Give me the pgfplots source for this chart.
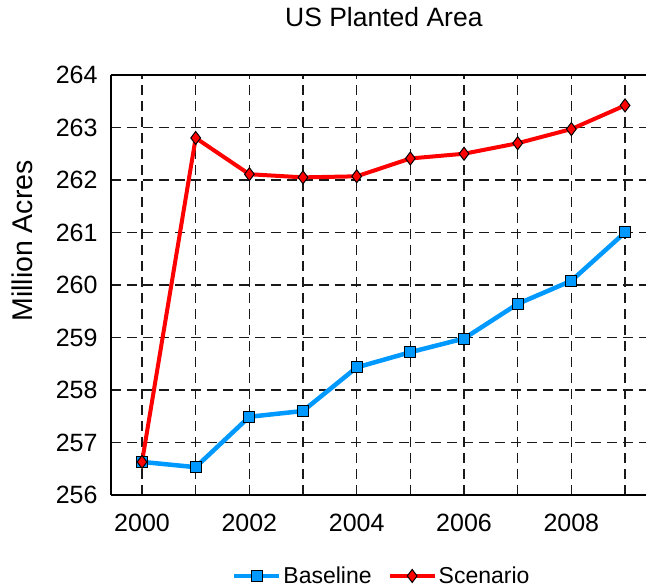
\documentclass[border=0pt]{standalone}
\usepackage{pgfplots}
\pgfplotsset{compat=1.18}
\usepackage{fontspec}
\setmainfont{Liberation Sans}
\definecolor{baseblue}{RGB}{0,153,255}
\definecolor{scenred}{RGB}{255,0,0}
\begin{document}
\begin{tikzpicture}
\begin{axis}[
  at={(0pt,0pt)}, anchor=south west,
  scale only axis,
  width=535pt, height=420pt,
  xmin=1999.422, xmax=2009.391,
  ymin=256, ymax=264,
  axis x line=box, axis y line=left,
  axis line style={line width=2pt, black, -},
  xtick={2000,2001,2002,2003,2004,2005,2006,2007,2008,2009},
  xticklabels={2000,,2002,,2004,,2006,,2008,},
  ytick={256,257,258,259,260,261,262,263,264},
  major tick length=0pt,
  grid=major,
  major grid style={black!90, line width=1.1pt, dash pattern=on 10pt off 6pt},
  tick label style={font=\fontsize{25}{30}\selectfont},
  /pgf/number format/assume math mode=true,
  yticklabel style={anchor=east, xshift=-10pt},
  xticklabel style={anchor=north, yshift=-16pt},
  title={US Planted Area},
  title style={at={(axis description cs:0.51,1)}, anchor=base, yshift=42pt, font=\fontsize{26.5}{30}\selectfont},
  ylabel={Million Acres},
  ylabel style={at={(axis description cs:-0.1458,0.605)}, anchor=base, font=\fontsize{28.5}{32}\selectfont},
  legend columns=2,
  legend style={draw=none, fill=none, at={(axis description cs:0.506,0)}, anchor=center, yshift=-81pt, font=\fontsize{23}{27}\selectfont, /tikz/every even column/.append style={column sep=14pt}},
  legend image code/.code={\draw[#1] (0pt,0pt) -- (45pt,0pt); \draw[#1, only marks] plot coordinates {(22.5pt,0pt)};},
]
\addplot[color=baseblue, line width=4.5pt, mark=square*, mark size=5.5pt, mark options={fill=baseblue, draw=black, line width=1pt, solid}]
coordinates {
(2000,256.63) (2001,256.53) (2002,257.49) (2003,257.60) (2004,258.43)
(2005,258.72) (2006,258.98) (2007,259.64) (2008,260.08) (2009,261.00)
};
\addlegendentry{Baseline}
\addplot[color=scenred, line width=4pt, mark=diamond*, mark size=6.5pt, mark options={fill=scenred, draw=black, line width=1pt, solid}]
coordinates {
(2000,256.63) (2001,262.80) (2002,262.11) (2003,262.05) (2004,262.07)
(2005,262.41) (2006,262.50) (2007,262.70) (2008,262.97) (2009,263.42)
};
\addlegendentry{Scenario}
\end{axis}
\pgfresetboundingbox
\path[use as bounding box] (-111pt,-93pt) rectangle (535pt,495pt);
\end{tikzpicture}
\end{document}
